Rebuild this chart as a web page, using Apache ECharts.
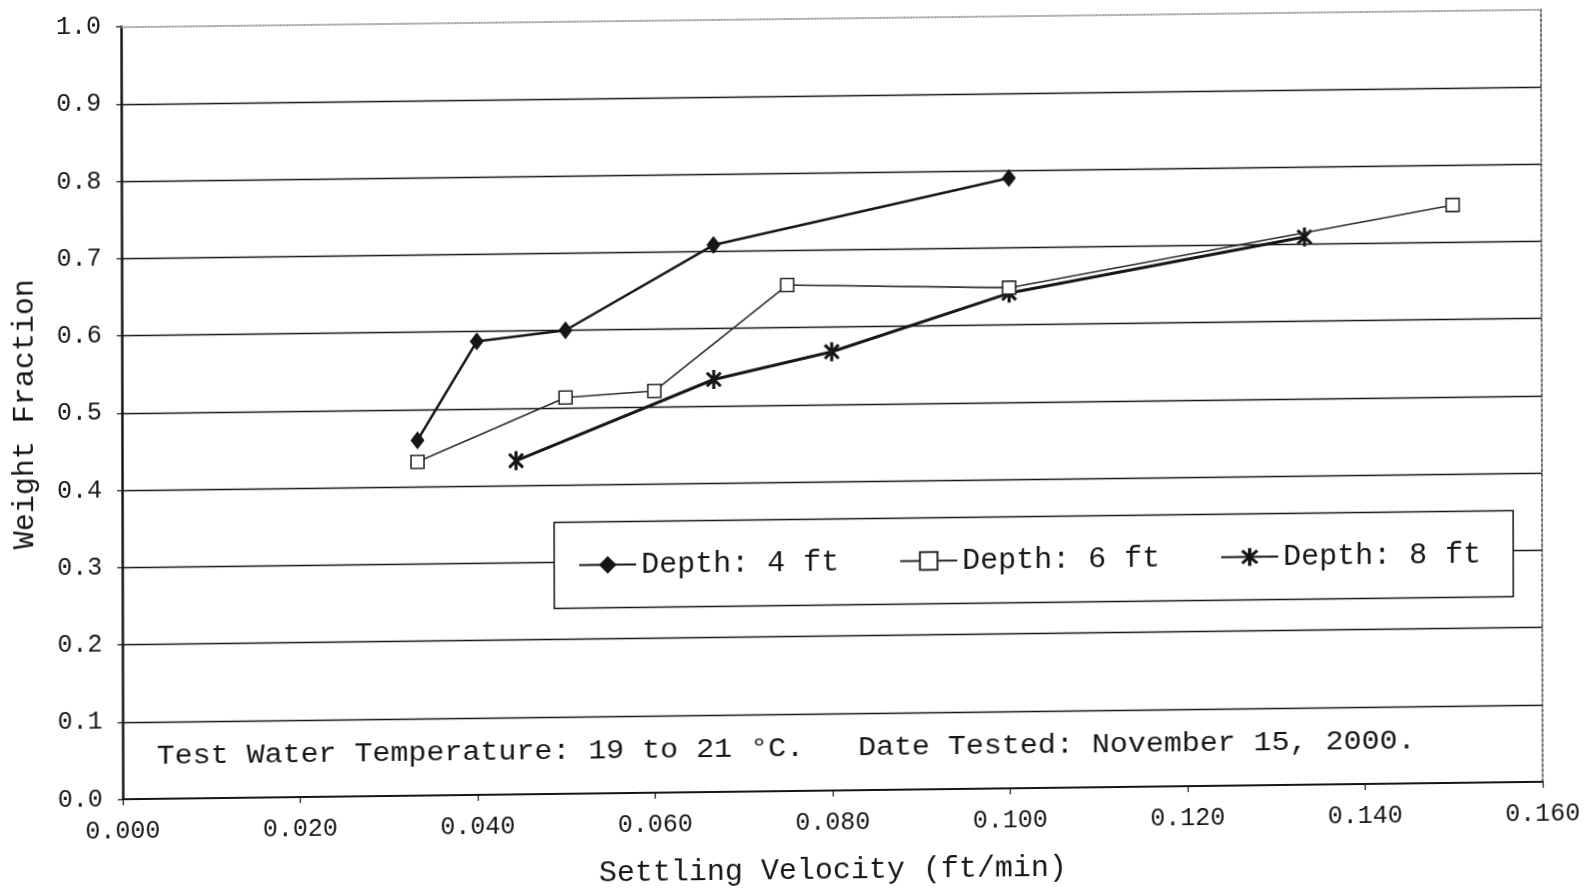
<!DOCTYPE html>
<html>
<head>
    <meta charset="utf-8">
    <title>Weight Fraction vs Settling Velocity</title>
    <style type="text/css">
        body {background-color: #fff; margin: 0px}
        /* the scanned original is slightly tilted, so tilt the whole chart the same way */
        #main {
            width: 1585px;
            height: 892px;
            transform: matrix(1, -0.0123, 0.0022, 1, 0, 0);
            transform-origin: 50% 50%;
        }
    </style>
</head>
<body>
<div id="main"></div>
<script src="https://cdn.jsdelivr.net/npm/echarts@6.0.0/dist/echarts.min.js"></script>
<script type="text/javascript">
// settling velocity (ft/min) and weight fraction, one pair of arrays per depth
var velocity4 = [0.0333, 0.0400, 0.0500, 0.0667, 0.1000];
var fraction4 = [0.460, 0.587, 0.600, 0.708, 0.790];

var velocity6 = [0.0333, 0.0500, 0.0600, 0.0750, 0.1000, 0.1500];
var fraction6 = [0.432, 0.513, 0.520, 0.655, 0.648, 0.748];

var velocity8 = [0.0444, 0.0667, 0.0800, 0.1000, 0.1333];
var fraction8 = [0.432, 0.534, 0.568, 0.641, 0.709];

var seriesNames = ['Depth: 4 ft', 'Depth: 6 ft', 'Depth: 8 ft'];

// axis ranges / tick steps
var xRange = [0, 0.16, 0.02];
var yRange = [0, 1.0, 0.1];

var noteText = 'Test Water Temperature: 19 to 21 \u00B0C.   Date Tested: November 15, 2000.';

var FONT = '"Liberation Mono", "DejaVu Sans Mono", monospace';
var INK = '#151515';

// asterisk marker: vertical bar + two diagonals
var starPath = 'path://M42 0L58 0L58 100L42 100Z' +
    'M20 8.7L91.3 80L80 91.3L8.7 20Z' +
    'M80 8.7L91.3 20L20 91.3L8.7 80Z';

function pairs(xs, ys) {
    var out = [];
    for (var i = 0; i < xs.length; i++) {
        out.push([xs[i], ys[i]]);
    }
    return out;
}

var myChart = echarts.init(document.getElementById('main'));

var option = {
    animation: false,
    backgroundColor: '#fff',
    textStyle: { fontFamily: FONT, color: INK },
    grid: {
        left: 122,
        right: 43,
        top: 18.5,
        bottom: 101,
        outerBoundsMode: 'none'
    },
    legend: {
        data: seriesNames,
        left: 554,
        top: 519.6,
        orient: 'horizontal',
        padding: [28, 32, 28, 24],
        itemGap: 60,
        itemWidth: 57,
        itemHeight: 22,
        backgroundColor: '#fff',
        borderColor: INK,
        borderWidth: 1.5,
        borderRadius: 0,
        textStyle: { fontFamily: FONT, fontSize: 30, color: INK }
    },
    xAxis: [{
        type: 'value',
        min: xRange[0],
        max: xRange[1],
        interval: xRange[2],
        name: 'Settling Velocity (ft/min)',
        nameLocation: 'middle',
        nameGap: 65,
        nameTextStyle: { fontFamily: FONT, fontSize: 30, color: INK },
        axisLine: { onZero: false, lineStyle: { color: INK, width: 2 } },
        axisTick: { show: true, inside: false, length: 6, lineStyle: { color: INK, width: 1.2 } },
        axisLabel: {
            margin: 20,
            fontFamily: FONT,
            fontSize: 25,
            color: INK,
            formatter: function (v) { return v.toFixed(3); }
        },
        splitLine: { show: false }
    }, {
        // dotted top border of the plot
        type: 'value',
        position: 'top',
        min: xRange[0],
        max: xRange[1],
        axisLine: { onZero: false, lineStyle: { color: '#8a8a8a', type: 'dotted', width: 1.5 } },
        axisTick: { show: false },
        axisLabel: { show: false },
        splitLine: { show: false }
    }],
    yAxis: [{
        type: 'value',
        min: yRange[0],
        max: yRange[1],
        interval: yRange[2],
        name: 'Weight Fraction',
        nameLocation: 'middle',
        nameGap: 82,
        nameTextStyle: { fontFamily: FONT, fontSize: 30, color: INK },
        axisLine: { show: true, onZero: false, lineStyle: { color: INK, width: 2.5 } },
        axisTick: { show: true, inside: false, length: 5, lineStyle: { color: INK, width: 1.2 } },
        axisLabel: {
            margin: 20,
            fontFamily: FONT,
            fontSize: 25,
            color: INK,
            formatter: function (v) { return v.toFixed(1); }
        },
        splitLine: {
            show: true,
            showMinLine: false,
            showMaxLine: false,
            lineStyle: { color: INK, width: 1.3, type: 'solid' }
        }
    }, {
        // dashed right border of the plot
        type: 'value',
        position: 'right',
        min: yRange[0],
        max: yRange[1],
        axisLine: { show: true, onZero: false, lineStyle: { color: '#444', type: [3, 2], width: 1.5 } },
        axisTick: { show: false },
        axisLabel: { show: false },
        splitLine: { show: false }
    }],
    graphic: [{
        type: 'text',
        x: 156,
        y: 749,
        scaleX: 1.11,
        z: 100,
        style: {
            text: noteText,
            font: '27px ' + FONT,
            fill: INK,
            textVerticalAlign: 'middle'
        }
    }],
    series: [{
        name: seriesNames[0],
        type: 'line',
        data: pairs(velocity4, fraction4),
        symbol: 'diamond',
        symbolSize: [14, 18],
        lineStyle: { color: INK, width: 2.5 },
        itemStyle: { color: INK },
        z: 4
    }, {
        name: seriesNames[1],
        type: 'line',
        data: pairs(velocity6, fraction6),
        symbol: 'rect',
        symbolSize: 13,
        showAllSymbol: true,
        lineStyle: { color: '#2a2a2a', width: 1.6 },
        itemStyle: { color: '#fff', borderColor: '#2a2a2a', borderWidth: 1.6 },
        z: 3
    }, {
        name: seriesNames[2],
        type: 'line',
        data: pairs(velocity8, fraction8),
        symbol: starPath,
        symbolSize: [16, 19],
        lineStyle: { color: INK, width: 3 },
        itemStyle: { color: INK },
        z: 2
    }]
};

myChart.setOption(option);
</script>
</body>
</html>
